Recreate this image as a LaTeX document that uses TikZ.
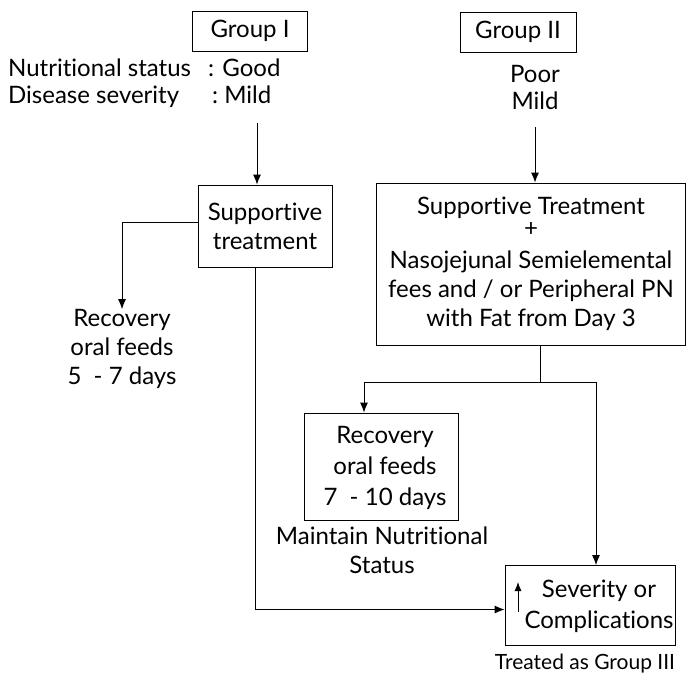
\documentclass[tikz,border=0pt]{standalone}
\usepackage{fontspec}
\setmainfont{Lato}[Ligatures=NoCommon]
\usetikzlibrary{arrows.meta,calc}
\begin{document}
\begin{tikzpicture}[x=1pt,y=-1pt,
  every node/.style={font=\fontsize{24}{29}\selectfont, inner sep=0pt},
  boxnode/.style={draw, line width=0.9pt, align=center},
  txt/.style={align=center},
  conn/.style={line width=0.9pt},
  arr/.style={line width=0.9pt, -{Latex[length=10pt,width=8pt]}}]
\useasboundingbox (0,0) rectangle (687,677);
% Group I
\node[boxnode, minimum width=115pt, minimum height=40pt] (g1) at (250,31) {Group I};
\node[anchor=base west] (ns) at (8,76) {Nutritional status};
\node[anchor=base west] (ng) at (208,76) {: Good};
\node[anchor=base west] (ds) at (8,103) {Disease severity};
\node[anchor=base west] (dm) at (212,103) {:\ Mild};
\coordinate (a1) at (257,123);
\node[boxnode, minimum width=134pt, minimum height=82pt] (st1) at (265,226) {Supportive\\treatment};
\node[txt] (rec1) at (122,349) {Recovery\\oral feeds\\5\ \ - 7 days};
% Group II
\node[boxnode, minimum width=116pt, minimum height=40pt] (g2) at (518,32) {Group II};
\node[txt, font=\fontsize{24}{27}\selectfont] (pm) at (535,87) {Poor\\Mild};
\coordinate (a2) at (535,127);
\node[boxnode, minimum width=309pt, minimum height=162pt] (st2) at (531,264)
  {Supportive Treatment\\[-7pt]+\\[3pt]Nasojejunal Semielemental\\fees and / or Peripheral PN\\with Fat from Day 3};
\coordinate (j) at (540,382);
\coordinate (j1) at (364,382);
\coordinate (j2) at (596,382);
\node[boxnode, minimum width=154pt, minimum height=107pt] (rec2) at (381,466.5) {};
\node[txt, font=\fontsize{24}{31}\selectfont] (rec2t) at (385,468) {Recovery\\oral feeds\\7\ \ - 10 days};
\node[txt] (mns) at (382,550) {Maintain Nutritional\\Status};
\node[boxnode, minimum width=170pt, minimum height=80pt] (sev) at (590,605.5) {};
\node[txt, font=\fontsize{24}{31}\selectfont] (sevt) at (599,606) {Severity or\\Complications};
\coordinate (u1) at (518,612);
\coordinate (u2) at (518,582);
\node[txt, font=\fontsize{21}{25}\selectfont] (tg3) at (585,664) {Treated as Group III};
% connectors
\draw[arr] (a1) -- (a1 |- st1.north);
\draw[arr] ([yshift=4pt]st1.west) -| (rec1.north);
\draw[arr] ([xshift=-10pt]st1.south) |- ([yshift=-4pt]sev.west);
\draw[arr] (a2) -- (a2 |- st2.north);
\draw[conn] (st2.south -| j) -- (j);
\draw[arr] (j) -- (j1) -- (j1 |- rec2.north);
\draw[arr] (j) -- (j2) -- (j2 |- sev.north);
\draw[line width=0.9pt, -{Latex[length=9pt,width=7pt]}] (u1) -- (u2);
\end{tikzpicture}
\end{document}
